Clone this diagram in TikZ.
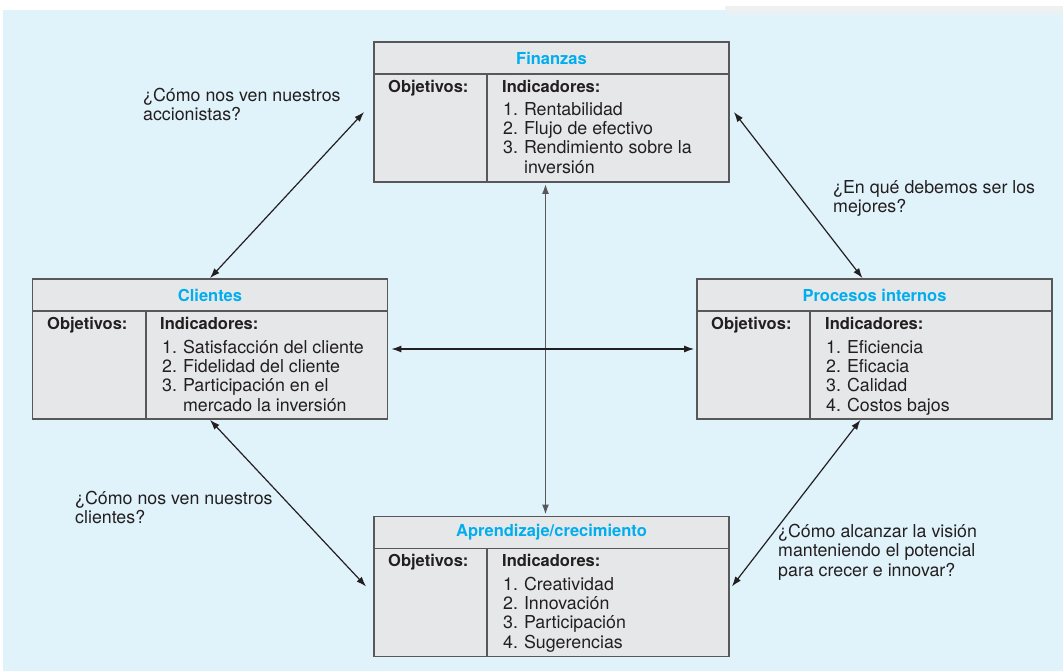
\documentclass[tikz,border=0pt]{standalone}
\usepackage{fontspec}
\setmainfont{TeX Gyre Heros}
\usetikzlibrary{arrows.meta}
\definecolor{fondo}{RGB}{224,243,250}
\definecolor{caja}{RGB}{230,231,232}
\definecolor{borde}{RGB}{88,88,90}
\definecolor{titulo}{RGB}{0,174,239}
\definecolor{texto}{RGB}{35,31,32}

\begin{document}
\begin{tikzpicture}[x=1pt,y=-1pt,
  cuadro/.style={draw=borde, line width=1.8pt, fill=caja, minimum width=355pt, minimum height=140pt, inner sep=0pt},
  tit/.style={text=titulo, inner sep=0pt, font=\fontsize{16.5}{19}\selectfont\bfseries},
  neg/.style={anchor=north west, inner sep=0pt, text=texto, font=\fontsize{16.5}{19}\selectfont\bfseries},
  lista/.style={anchor=north west, inner sep=0pt, text=texto, font=\fontsize{17.8}{19.3}\selectfont},
  preg/.style={anchor=north west, inner sep=0pt, align=left, text=texto, font=\fontsize{17.8}{19.3}\selectfont},
  flecha/.style={<->, >={Latex[length=10pt,width=7pt]}, line width=1.2pt, draw=texto}]
\useasboundingbox (0,0) rectangle (1063,671);
\fill [fondo] (3,10) rectangle (1063,671);
\fill [gray!12] (725,6) rectangle (1063,8);
\shade [top color=gray!12, bottom color=fondo] (725,8) rectangle (1063,18);

% Finanzas
\node [cuadro] (fin) at (551.5,112) {};
\draw [borde, line width=1.8pt] (374,74) -- (729,74) (487,74) -- (487,182);
\node [tit] (fintit) at (551.5,58) {Finanzas};
\node [neg] (finobj) at (388,80) {Objetivos:};
\node [neg] (finind) at (502,80) {Indicadores:};
\node [lista] (finlis) at (503,101.5) {\begin{tabular}{@{}l@{\hspace{6pt}}l@{}}
1. & Rentabilidad\\
2. & Flujo de efectivo\\
3. & Rendimiento sobre la\\
 & inversión
\end{tabular}};

% Clientes
\node [cuadro] (cli) at (210,349) {};
\draw [borde, line width=1.8pt] (33,311) -- (387,311) (146,311) -- (146,419);
\node [tit] (clitit) at (210,295) {Clientes};
\node [neg] (cliobj) at (47,317) {Objetivos:};
\node [neg] (cliind) at (160,317) {Indicadores:};
\node [lista] (clilis) at (162,339.5) {\begin{tabular}{@{}l@{\hspace{6pt}}l@{}}
1. & Satisfacción del cliente\\
2. & Fidelidad del cliente\\
3. & Participación en el\\
 & mercado la inversión
\end{tabular}};

% Procesos internos
\node [cuadro] (pro) at (874.5,349) {};
\draw [borde, line width=1.8pt] (697,311) -- (1052,311) (810,311) -- (810,419);
\node [tit] (protit) at (874.5,295) {Procesos internos};
\node [neg] (proobj) at (711,317) {Objetivos:};
\node [neg] (proind) at (825,317) {Indicadores:};
\node [lista] (prolis) at (826,339.5) {\begin{tabular}{@{}l@{\hspace{6pt}}l@{}}
1. & Eficiencia\\
2. & Eficacia\\
3. & Calidad\\
4. & Costos bajos
\end{tabular}};

% Aprendizaje
\node [cuadro] (apr) at (551.5,586.5) {};
\draw [borde, line width=1.8pt] (374,548.5) -- (729,548.5) (487,548.5) -- (487,657);
\node [tit] (aprtit) at (551.5,532) {Aprendizaje/crecimiento};
\node [neg] (aprobj) at (388,554) {Objetivos:};
\node [neg] (aprind) at (502,554) {Indicadores:};
\node [lista] (aprlis) at (503,576.5) {\begin{tabular}{@{}l@{\hspace{6pt}}l@{}}
1. & Creatividad\\
2. & Innovación\\
3. & Participación\\
4. & Sugerencias
\end{tabular}};

% preguntas
\node [preg] (accion) at (143,88) {¿Cómo nos ven nuestros\\accionistas?};
\node [preg] (mejor) at (833,180) {¿En qué debemos ser los\\mejores?};
\node [preg] (client) at (75,491) {¿Cómo nos ven nuestros\\clientes?};
\node [preg] (vision) at (778,524) {¿Cómo alcanzar la visión\\manteniendo el potencial\\para crecer e innovar?};

% flechas
\draw [flecha] ([xshift=-9pt]fin.west) -- (cli.north);
\draw [flecha] ([xshift=4pt]fin.east) -- ([xshift=-12pt]pro.north);
\draw [flecha] (cli.south) -- ([xshift=-7pt]apr.west);
\draw [flecha] ([xshift=-14pt]pro.south) -- ([xshift=2pt]apr.east);
\draw [flecha, draw=borde, line width=1.6pt] ([xshift=-6pt,yshift=-1pt]fin.south) -- ([xshift=-6pt,yshift=1pt]apr.north);
\draw [flecha] ([xshift=3pt]cli.east) -- ([xshift=-2pt]pro.west);
\end{tikzpicture}
\end{document}
